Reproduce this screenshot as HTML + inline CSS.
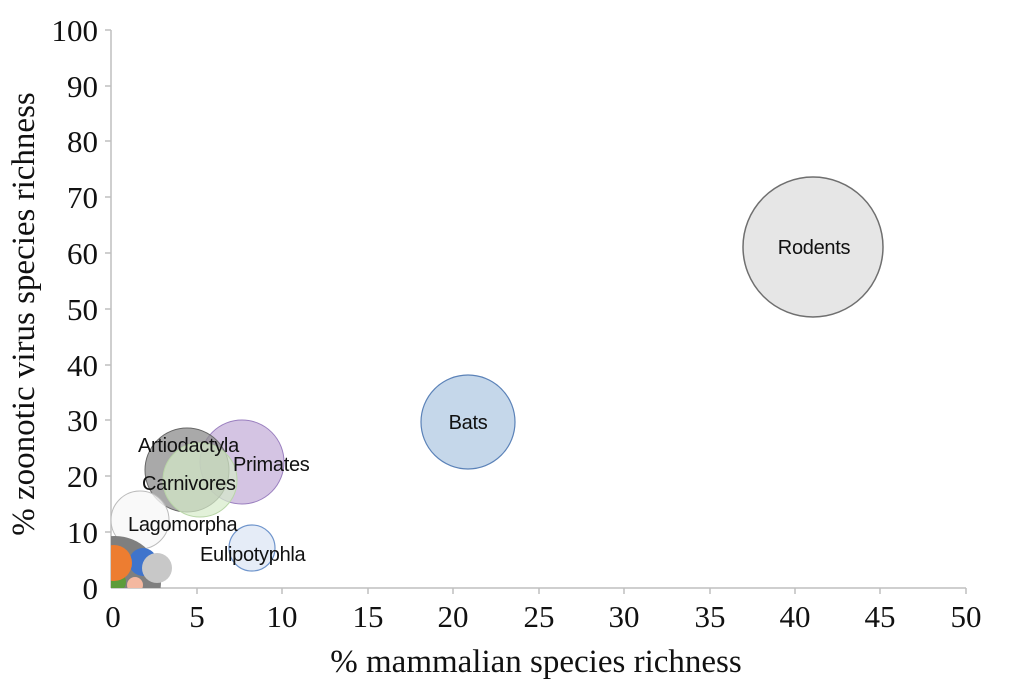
<!DOCTYPE html>
<html><head><style>body{margin:0;background:#fff}svg{display:block}</style></head><body>
<svg width="1024" height="682" viewBox="0 0 1024 682" xmlns="http://www.w3.org/2000/svg">
<defs><clipPath id="c"><rect x="111" y="20" width="870" height="568"/></clipPath></defs>
<g stroke="#bfbfbf" stroke-width="1.5" fill="none">
<line x1="111" y1="30" x2="111" y2="588"/>
<line x1="111" y1="588" x2="966" y2="588"/>
<line x1="105" y1="30" x2="111" y2="30"/><line x1="105" y1="86" x2="111" y2="86"/><line x1="105" y1="141" x2="111" y2="141"/><line x1="105" y1="197" x2="111" y2="197"/><line x1="105" y1="253" x2="111" y2="253"/><line x1="105" y1="309" x2="111" y2="309"/><line x1="105" y1="365" x2="111" y2="365"/><line x1="105" y1="420" x2="111" y2="420"/><line x1="105" y1="476" x2="111" y2="476"/><line x1="105" y1="532" x2="111" y2="532"/>
<line x1="197" y1="588" x2="197" y2="594"/><line x1="282" y1="588" x2="282" y2="594"/><line x1="368" y1="588" x2="368" y2="594"/><line x1="453" y1="588" x2="453" y2="594"/><line x1="539" y1="588" x2="539" y2="594"/><line x1="624" y1="588" x2="624" y2="594"/><line x1="710" y1="588" x2="710" y2="594"/><line x1="795" y1="588" x2="795" y2="594"/><line x1="880" y1="588" x2="880" y2="594"/><line x1="966" y1="588" x2="966" y2="594"/>
</g>
<g clip-path="url(#c)">
<circle cx="813" cy="247" r="70" fill="#e6e6e6" stroke="#6f6f6f" stroke-width="1.5"/>
<circle cx="468" cy="422" r="47" fill="#c5d7ea" stroke="#5b82b8" stroke-width="1.2"/>
<circle cx="242" cy="462" r="42" fill="#c9b5dc" fill-opacity="0.8" stroke="#9a7fbf" stroke-width="1"/>
<circle cx="187" cy="470" r="42" fill="#8c8c8c" fill-opacity="0.75" stroke="#666" stroke-width="1"/>
<circle cx="200" cy="480" r="37" fill="#d5ebc9" fill-opacity="0.7" stroke="#b9d6a8" stroke-width="1"/>
<circle cx="140" cy="520" r="29" fill="#f7f7f7" fill-opacity="0.8" stroke="#bbb" stroke-width="1"/>
<circle cx="252" cy="548" r="23" fill="#e5ecf7" stroke="#6f95cc" stroke-width="1.2"/>
<circle cx="115" cy="582" r="46" fill="#7f7f7f"/>
<circle cx="116" cy="582" r="10" fill="#5d9c3a"/>
<circle cx="143" cy="562" r="14" fill="#3f74cc"/>
<circle cx="135" cy="585" r="8" fill="#f4b8a0"/>
<circle cx="114" cy="563" r="18" fill="#ed7d31"/>
<circle cx="157" cy="568" r="15" fill="#c8c8c8"/>
</g>
<g font-family="Liberation Sans, sans-serif" font-size="20" fill="#111" letter-spacing="-0.3">
<text x="814" y="254" text-anchor="middle">Rodents</text>
<text x="468" y="429" text-anchor="middle">Bats</text>
<text x="138" y="452">Artiodactyla</text>
<text x="233" y="471">Primates</text>
<text x="142" y="490">Carnivores</text>
<text x="128" y="531">Lagomorpha</text>
<text x="200" y="561">Eulipotyphla</text>
</g>
<g font-family="Liberation Serif, serif" font-size="31" fill="#111" text-anchor="end">
<text x="98" y="41">100</text><text x="98" y="97">90</text><text x="98" y="152">80</text><text x="98" y="208">70</text><text x="98" y="264">60</text><text x="98" y="320">50</text><text x="98" y="376">40</text><text x="98" y="431">30</text><text x="98" y="487">20</text><text x="98" y="543">10</text><text x="98" y="599">0</text>
</g>
<g font-family="Liberation Serif, serif" font-size="31" fill="#111" text-anchor="middle">
<text x="113" y="627">0</text><text x="197" y="627">5</text><text x="282" y="627">10</text><text x="368" y="627">15</text><text x="453" y="627">20</text><text x="539" y="627">25</text><text x="624" y="627">30</text><text x="710" y="627">35</text><text x="795" y="627">40</text><text x="880" y="627">45</text><text x="966" y="627">50</text>
<text x="536" y="672" font-size="33">% mammalian species richness</text>
<text transform="translate(34,314) rotate(-90)" font-size="33">% zoonotic virus species richness</text>
</g>
</svg>
</body></html>
